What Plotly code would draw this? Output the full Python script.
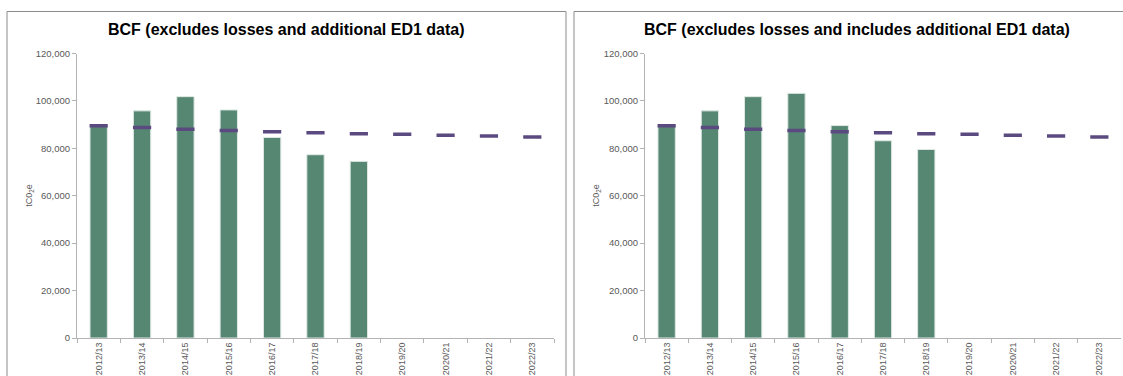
import plotly.graph_objects as go

# Financial years on the category axis
years = ["2012/13", "2013/14", "2014/15", "2015/16", "2016/17", "2017/18",
         "2018/19", "2019/20", "2020/21", "2021/22", "2022/23"]
reported_years = years[:7]

# Business carbon footprint, tCO2e
bcf_excl_ed1 = [89400, 95800, 101800, 96200, 84600, 77300, 74500]
bcf_incl_ed1 = [89400, 95800, 101800, 103200, 89600, 83200, 79500]

# Target trajectory (dash markers)
target = [89500, 88800, 88100, 87500, 87000, 86600, 86200, 85900, 85500, 85200, 84800]

y_ticks = [0, 20000, 40000, 60000, 80000, 100000, 120000]
panel_titles = ["BCF (excludes losses and additional ED1 data)",
                "BCF (excludes losses and includes additional ED1 data)"]

W, H = 1123, 376
BAR = "#568773"
DASH = "#5b4a80"
AXIS = "#b3b3b3"
TXT = "#595959"
FONT = "Liberation Sans, Arial, sans-serif"

# pixel layout of each panel
panels = [
    dict(box=(7, 566), plot=(77, 554), bars=bcf_excl_ed1),
    dict(box=(574, 1140), plot=(645, 1121), bars=bcf_incl_ed1),
]
plot_top, plot_bottom = 53.5, 338

def px(x):
    return x / W

def py(y):
    return 1 - y / H

fig = go.Figure()
shapes, annotations = [], []

for i, p in enumerate(panels):
    n = "" if i == 0 else str(i + 1)
    xa, ya = "x" + n, "y" + n
    fig.add_trace(go.Bar(
        x=reported_years, y=p["bars"], xaxis=xa, yaxis=ya,
        marker=dict(color=BAR, line=dict(color="#dfe9e4", width=1)),
        width=0.4, showlegend=False,
    ))
    fig.add_trace(go.Scatter(
        x=years, y=target, xaxis=xa, yaxis=ya, mode="markers",
        marker=dict(symbol="line-ew", size=13, color=DASH,
                    line=dict(color=DASH, width=3.5)),
        showlegend=False,
    ))
    fig.layout["xaxis" + n] = dict(
        domain=[px(p["plot"][0]), px(p["plot"][1])],
        anchor=ya, type="category", categoryorder="array", categoryarray=years,
        range=[-0.5, len(years) - 0.5], automargin=False,
        showline=True, linecolor=AXIS, linewidth=1,
        ticks="outside", tickson="boundaries", ticklen=4, tickcolor=AXIS,
        tickangle=-90, tickfont=dict(family=FONT, size=9, color=TXT),
        showgrid=False, zeroline=False, fixedrange=True,
    )
    fig.layout["yaxis" + n] = dict(
        domain=[py(plot_bottom), py(plot_top)],
        anchor=xa, range=[0, 120000], tickvals=y_ticks, tickformat=",",
        automargin=False,
        showline=True, linecolor=AXIS, linewidth=1,
        ticks="outside", ticklen=4, tickcolor=AXIS,
        tickfont=dict(family=FONT, size=9.5, color=TXT),
        showgrid=False, zeroline=False, fixedrange=True,
    )
    x0, x1 = p["box"]
    shapes.append(dict(type="rect", xref="paper", yref="paper",
                       x0=px(x0), x1=px(x1), y0=py(400), y1=py(11.5),
                       line=dict(color="#8c8c8c", width=1), layer="below"))
    annotations.append(dict(
        text="<b>" + panel_titles[i] + "</b>", xref="paper", yref="paper",
        x=px((x0 + x1) / 2 - 0.5), y=py(30), xanchor="center", yanchor="middle",
        showarrow=False, font=dict(family=FONT, size=16, color="#000000"),
    ))
    annotations.append(dict(
        text="tC0<sub>2</sub>e", xref="paper", yref="paper",
        x=px(x0 + 23), y=py((plot_top + plot_bottom) / 2),
        xanchor="center", yanchor="middle", textangle=-90, showarrow=False,
        font=dict(family=FONT, size=9, color=TXT),
    ))

fig.update_layout(
    width=W, height=H, margin=dict(l=0, r=0, t=0, b=0),
    paper_bgcolor="white", plot_bgcolor="rgba(0,0,0,0)",
    separators=".,", barmode="overlay",
    shapes=shapes, annotations=annotations,
)

fig.write_html("out.html", config=dict(displayModeBar=False))
